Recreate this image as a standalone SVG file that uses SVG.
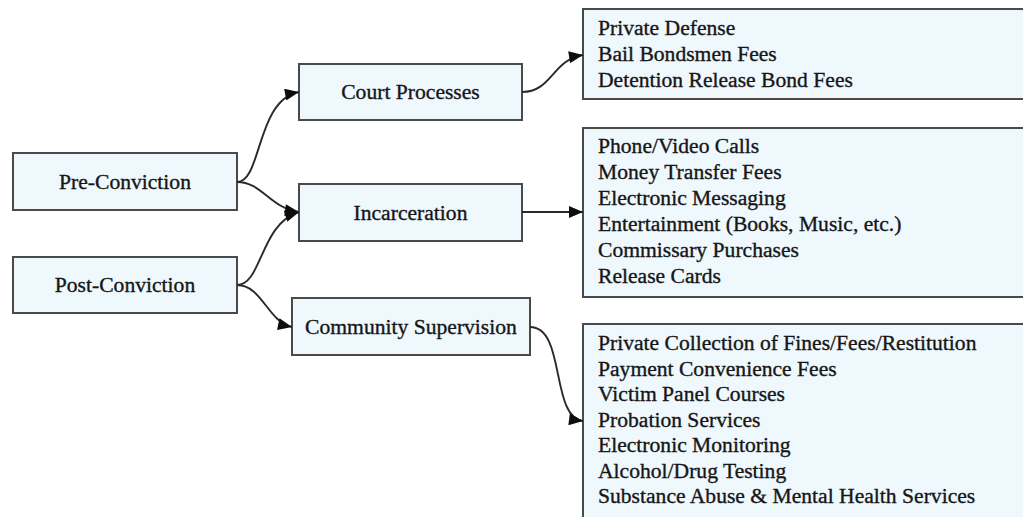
<svg xmlns="http://www.w3.org/2000/svg" width="1023" height="517" viewBox="0 0 1023 517">
<style>
.box{fill:#eff8fc;stroke:#4a4a4a;stroke-width:2}
.t{font-family:"Liberation Serif","Times New Roman",serif;font-size:21.6px;fill:#161616;stroke:#161616;stroke-width:0.35}
.c{text-anchor:middle}
.e{fill:none;stroke:#2a2a2a;stroke-width:1.9}
</style>
<defs>
<marker id="ah" viewBox="0 0 14 12" refX="14" refY="6" markerWidth="15" markerHeight="12" markerUnits="userSpaceOnUse" orient="auto">
<path d="M0,0 L14,6 L0,12 z" fill="#0d0d0d"/>
</marker>
</defs>
<rect width="1023" height="517" fill="#fff"/>
<g id="pre"><rect class="box" x="13" y="153" width="224" height="57"/><text class="t c" x="125" y="189">Pre-Conviction</text></g>
<g id="post"><rect class="box" x="13" y="257" width="224" height="56"/><text class="t c" x="125" y="292">Post-Conviction</text></g>
<g id="court"><rect class="box" x="299" y="64" width="223" height="56"/><text class="t c" x="410.5" y="99">Court Processes</text></g>
<g id="incar"><rect class="box" x="299" y="184" width="223" height="57"/><text class="t c" x="410.5" y="220">Incarceration</text></g>
<g id="comm"><rect class="box" x="292" y="298" width="238" height="57"/><text class="t c" x="411" y="334">Community Supervision</text></g>
<g id="courtfees"><rect class="box" x="583" y="9" width="460" height="90"/>
<text class="t" x="598" y="35">Private Defense</text>
<text class="t" x="598" y="61">Bail Bondsmen Fees</text>
<text class="t" x="598" y="87">Detention Release Bond Fees</text></g>
<g id="incarfees"><rect class="box" x="583" y="128" width="460" height="169"/>
<text class="t" x="598" y="153">Phone/Video Calls</text>
<text class="t" x="598" y="179">Money Transfer Fees</text>
<text class="t" x="598" y="205">Electronic Messaging</text>
<text class="t" x="598" y="231">Entertainment (Books, Music, etc.)</text>
<text class="t" x="598" y="257">Commissary Purchases</text>
<text class="t" x="598" y="283">Release Cards</text></g>
<g id="commfees"><rect class="box" x="583" y="324" width="460" height="200"/>
<text class="t" x="598" y="350">Private Collection of Fines/Fees/Restitution</text>
<text class="t" x="598" y="376">Payment Convenience Fees</text>
<text class="t" x="598" y="401">Victim Panel Courses</text>
<text class="t" x="598" y="427">Probation Services</text>
<text class="t" x="598" y="452">Electronic Monitoring</text>
<text class="t" x="598" y="478">Alcohol/Drug Testing</text>
<text class="t" x="598" y="503">Substance Abuse &amp; Mental Health Services</text></g>
<g id="connectors">
<path class="e" marker-end="url(#ah)" d="M237,182 C262,182 256,100 299,92"/>
<path class="e" marker-end="url(#ah)" d="M237,182 C262,182 270,208 299,212"/>
<path class="e" marker-end="url(#ah)" d="M237,285 C262,285 260,224 299,212"/>
<path class="e" marker-end="url(#ah)" d="M237,285 C262,285 268,322 292,327"/>
<path class="e" marker-end="url(#ah)" d="M522,92 C552,92 552,60 583,55"/>
<path class="e" marker-end="url(#ah)" d="M522,212 L583,212"/>
<path class="e" marker-end="url(#ah)" d="M530,327 C566,327 550,417 583,421"/>
</g>
</svg>
